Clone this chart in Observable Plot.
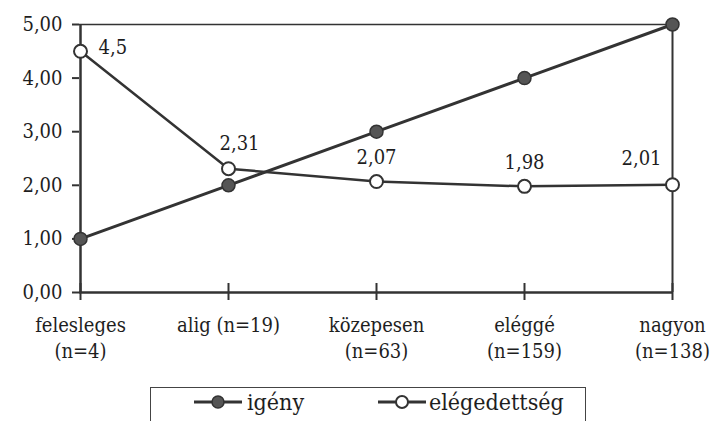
<!DOCTYPE html>
<html>
<head>
<meta charset="utf-8">
<script src="https://cdn.jsdelivr.net/npm/d3@7"></script>
<script src="https://cdn.jsdelivr.net/npm/@observablehq/plot@0.6"></script>
<style>
  html, body { margin: 0; padding: 0; background: #fff; }
  body { width: 710px; height: 421px; overflow: hidden; font-family: "DejaVu Serif Condensed", "DejaVu Serif", serif; }
  #legend { position: absolute; left: 150px; top: 387px; width: 436px; height: 40px; border: 1.5px solid #444; box-sizing: border-box; }
  .item { position: absolute; top: 1px; display: flex; align-items: center; font-size: 23px; color: #1e1e1e; }
</style>
</head>
<body>
<div id="chart"></div>
<div id="legend">
  <div class="item" style="left:42px"><svg width="50" height="20"><line x1="1" x2="49" y1="10" y2="10" stroke="#333" stroke-width="3"/><circle cx="25" cy="10" r="6" fill="#555" stroke="#333" stroke-width="1.5"/></svg><span style="margin-left:4px">igény</span></div>
  <div class="item" style="left:226px"><svg width="50" height="20"><line x1="1" x2="49" y1="10" y2="10" stroke="#333" stroke-width="3"/><circle cx="25" cy="10" r="6" fill="#fff" stroke="#333" stroke-width="2"/></svg><span style="margin-left:2px">elégedettség</span></div>
</div>
<script>
const categories = ["felesleges", "alig", "közepesen", "eléggé", "nagyon"];
const categoryLabels = ["felesleges\n(n=4)", "alig (n=19)", "közepesen\n(n=63)", "eléggé\n(n=159)", "nagyon\n(n=138)"];
const igeny = [1, 2, 3, 4, 5];
const elegedettseg = [4.5, 2.31, 2.07, 1.98, 2.01];
const elegedettsegLabels = ["4,5", "2,31", "2,07", "1,98", "2,01"];
const yTicks = [0, 1, 2, 3, 4, 5];

const igenyData = categories.map((c, i) => ({cat: c, v: igeny[i]}));
const elegData = categories.map((c, i) => ({cat: c, v: elegedettseg[i], label: elegedettsegLabels[i], i}));

const ink = "#333";
const txt = "#1e1e1e";
const fs = 20;
const fmtY = d => d3.format(".2f")(d).replace(".", ",");
const labelFor = Object.fromEntries(categories.map((c, i) => [c, categoryLabels[i]]));

const chart = Plot.plot({
  width: 710,
  height: 385,
  marginLeft: 79,
  marginRight: 38,
  marginTop: 24,
  marginBottom: 93,
  style: {fontFamily: "'DejaVu Serif Condensed', 'DejaVu Serif', serif", fontSize: fs + "px", color: txt, background: "transparent"},
  x: {type: "point", domain: categories, padding: 0},
  y: {domain: [0, 5]},
  marks: [
    Plot.ruleY([5], {stroke: ink, strokeWidth: 1.5}),
    Plot.ruleX(["nagyon"], {stroke: ink, strokeWidth: 2}),
    Plot.ruleY([0], {stroke: ink, strokeWidth: 2.5}),
    Plot.ruleX(["felesleges"], {stroke: ink, strokeWidth: 2.5}),
    Plot.axisY({ticks: yTicks, tickFormat: fmtY, tickSize: 7, tickPadding: 10, stroke: ink, strokeWidth: 2, fontSize: fs, fill: txt, label: null}),
    Plot.axisX({tickFormat: () => "", tickSize: 17, dy: -9, stroke: ink, strokeWidth: 2, label: null}),
    Plot.axisX({tickFormat: d => labelFor[d], tickSize: 0, tickPadding: 21, lineHeight: 1.3, fontSize: fs, fill: txt, label: null}),
    Plot.line(igenyData, {x: "cat", y: "v", stroke: ink, strokeWidth: 3}),
    Plot.line(elegData, {x: "cat", y: "v", stroke: ink, strokeWidth: 2.5}),
    Plot.dot(igenyData, {x: "cat", y: "v", r: 6.5, fill: "#555", stroke: ink, strokeWidth: 1.5}),
    Plot.dot(elegData, {x: "cat", y: "v", r: 6.5, fill: "#fff", stroke: ink, strokeWidth: 2}),
    Plot.text(elegData.filter(d => d.i === 0), {x: "cat", y: "v", text: "label", textAnchor: "start", dx: 18, dy: -4, fontSize: fs, fill: txt}),
    Plot.text(elegData.filter(d => d.i === 1), {x: "cat", y: "v", text: "label", dx: 11, dy: -25, fontSize: fs, fill: txt}),
    Plot.text(elegData.filter(d => d.i === 2 || d.i === 3), {x: "cat", y: "v", text: "label", dy: -24, fontSize: fs, fill: txt}),
    Plot.text(elegData.filter(d => d.i === 4), {x: "cat", y: "v", text: "label", dx: -31, dy: -26, fontSize: fs, fill: txt})
  ]
});
document.getElementById("chart").appendChild(chart);
</script>
</body>
</html>
